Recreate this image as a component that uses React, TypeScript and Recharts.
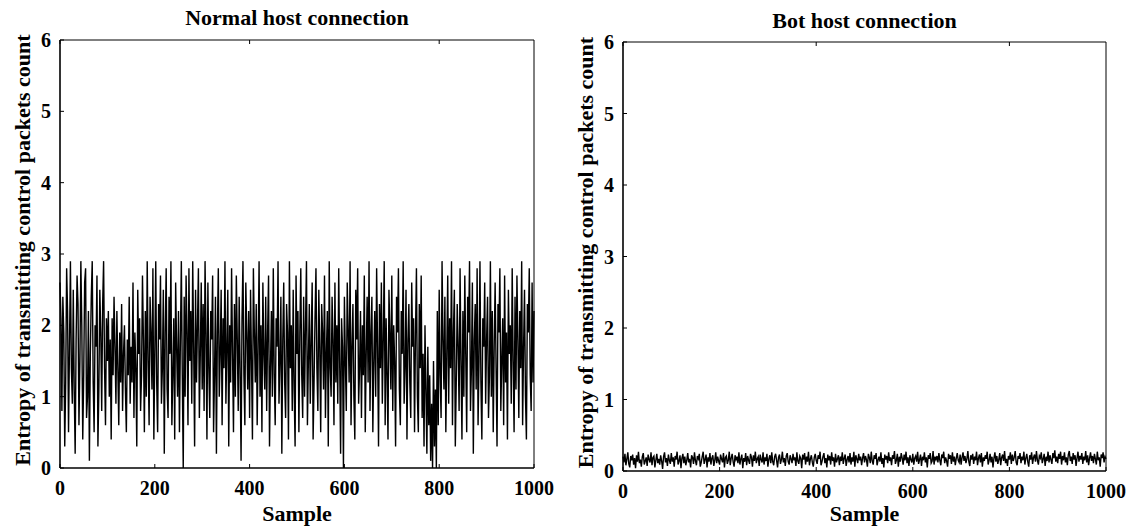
import React from 'react';
import { LineChart, Line, XAxis, YAxis } from 'recharts';

// values read every 2nd sample (0, 2, 4 ... 1000)
const sampleStep = 2;
const xTicks = [0, 200, 400, 600, 800, 1000];
const yTicks = [0, 1, 2, 3, 4, 5, 6];
const yLabel = 'Entropy of transmitting control packets count';
const xLabel = 'Sample';

const normalEntropy = [
  2.6, 2.1, 0.8, 2.4, 1.9, 0.3, 1.2, 2.8, 2.2, 0.5, 1.7, 2.9, 1.4, 0.9, 2.5, 1.1, 0.2, 1.8, 2.7, 2.3, 0.6, 1.5, 2.9, 2.0, 0.4,
  1.3, 2.6, 2.8, 0.7, 1.0, 2.2, 0.1, 1.6, 2.4, 2.9, 1.2, 0.5, 2.0, 1.7, 2.7, 0.3, 1.1, 2.5, 1.9, 0.8, 2.3, 2.9, 1.4, 0.6, 2.1,
  1.5, 2.2, 1.0, 1.8, 0.4, 2.1, 1.3, 2.4, 1.7, 0.9, 2.2, 1.4, 0.6, 1.9, 1.2, 2.3, 0.8, 1.6, 2.0, 1.1, 0.5, 1.8, 1.3, 2.4, 0.9,
  1.7, 1.2, 2.6, 0.7, 1.9, 1.4, 0.3, 2.5, 1.6, 2.1, 0.8, 1.3, 2.7, 1.8, 0.5, 2.2, 1.0, 2.9, 1.5, 0.6, 2.4, 1.9, 1.1, 2.8, 0.4,
  1.6, 2.9, 1.2, 0.5, 2.3, 1.8, 2.7, 0.9, 1.4, 2.5, 0.2, 1.9, 2.8, 1.1, 0.7, 2.4, 1.6, 2.9, 0.6, 1.3, 2.1, 0.4, 2.6, 1.7, 1.0,
  2.2, 0.5, 1.8, 2.9, 1.3, 0.0, 2.4, 1.0, 2.7, 1.9, 0.6, 2.8, 1.5, 2.2, 0.9, 2.9, 1.7, 0.3, 2.5, 1.2, 2.0, 2.8, 0.7, 1.6, 2.6,
  1.1, 2.3, 0.8, 2.9, 1.9, 0.4, 2.6, 1.4, 0.7, 2.2, 1.8, 2.7, 0.5, 1.3, 2.4, 0.2, 1.9, 2.8, 1.0, 1.6, 2.5, 0.6, 2.1, 1.4, 2.9,
  0.9, 1.7, 2.5, 0.3, 2.0, 1.2, 2.8, 1.6, 0.5, 2.3, 1.0, 2.7, 1.8, 0.8, 2.4, 1.4, 0.1, 2.1, 2.9, 1.3, 0.6, 2.6, 1.9, 1.1, 2.2,
  0.7, 2.5, 1.5, 0.4, 2.8, 1.9, 1.2, 2.3, 0.6, 1.7, 2.9, 1.0, 2.0, 0.5, 2.6, 1.6, 1.1, 2.4, 0.8, 1.9, 2.7, 0.3, 1.4, 2.2, 1.0,
  2.8, 1.3, 0.6, 2.1, 1.7, 2.9, 0.9, 1.5, 2.4, 0.2, 1.8, 2.6, 1.2, 0.7, 2.3, 1.9, 0.4, 2.9, 1.4, 2.0, 0.8, 2.5, 1.1, 0.3, 2.7,
  1.6, 2.2, 0.5, 1.9, 2.8, 1.3, 0.7, 2.4, 1.0, 2.0, 2.9, 0.6, 1.5, 2.3, 0.9, 1.8, 2.6, 0.4, 1.2, 2.1, 2.8, 1.4, 0.8, 2.5, 1.7,
  0.5, 2.3, 1.9, 1.1, 2.7, 0.7, 1.6, 2.2, 0.3, 2.9, 1.4, 1.0, 2.4, 1.8, 0.6, 2.6, 1.2, 2.0, 0.9, 2.8, 1.5, 0.2, 2.1, 1.7, 0.0,
  2.4, 1.5, 0.8, 2.6, 1.9, 1.2, 2.9, 0.6, 1.7, 2.3, 1.0, 0.4, 2.5, 1.8, 2.8, 0.9, 1.4, 2.2, 0.7, 2.0, 1.3, 2.7, 0.5, 1.6, 2.4,
  1.2, 2.9, 0.8, 1.9, 2.4, 0.5, 1.5, 2.2, 1.0, 2.8, 1.7, 0.3, 2.3, 1.4, 2.6, 0.9, 1.8, 2.9, 0.6, 2.1, 1.3, 0.4, 2.5, 1.9, 1.1,
  2.7, 0.8, 2.0, 1.5, 0.3, 2.4, 1.9, 2.8, 1.1, 0.6, 2.2, 1.6, 2.9, 0.9, 1.4, 2.5, 0.4, 1.8, 2.3, 1.2, 0.7, 2.6, 1.7, 2.1, 0.5,
  1.9, 2.8, 1.0, 0.5, 2.3, 1.4, 2.7, 0.7, 1.6, 0.3, 2.0, 1.1, 0.2, 1.7, 0.6, 1.3, 0.1, 0.9, 0.0, 1.5, 0.3, 1.1, 0.0, 2.2, 0.6,
  2.5, 1.3, 0.7, 2.9, 1.8, 1.1, 2.4, 0.5, 1.6, 2.7, 0.9, 2.1, 1.4, 2.9, 0.6, 1.9, 2.5, 0.3, 1.2, 2.3, 1.7, 0.8, 2.8, 1.5, 0.4,
  2.2, 1.0, 2.7, 1.6, 0.5, 2.4, 1.9, 2.9, 0.8, 1.4, 2.6, 0.2, 1.8, 2.3, 1.1, 2.8, 0.6, 1.5, 2.9, 1.2, 0.4, 2.1, 1.7, 2.6, 0.9,
  1.8, 2.4, 0.7, 1.3, 2.9, 1.0, 2.2, 0.5, 1.7, 2.6, 1.4, 0.3, 2.3, 1.9, 2.8, 0.8, 1.5, 2.1, 0.6, 2.7, 1.2, 1.9, 0.4, 2.5, 1.6,
  2.0, 0.9, 2.8, 1.5, 0.5, 2.4, 1.1, 2.7, 1.8, 0.7, 2.2, 1.4, 2.9, 0.6, 1.7, 2.5, 1.0, 0.4, 2.3, 1.9, 2.8, 1.3, 0.8, 2.6, 1.2,
  2.2,
];

const botEntropy = [
  0.2, 0.12, 0.24, 0.08, 0.17, 0.26, 0.1, 0.05, 0.21, 0.15, 0.23, 0.09, 0.18, 0.04, 0.22, 0.13, 0.27, 0.11, 0.16, 0.06, 0.2, 0.25, 0.09, 0.14, 0.19,
  0.07, 0.23, 0.16, 0.12, 0.26, 0.08, 0.19, 0.21, 0.05, 0.15, 0.24, 0.11, 0.17, 0.09, 0.22, 0.14, 0.03, 0.2, 0.26, 0.12, 0.18, 0.07, 0.23, 0.15, 0.1,
  0.25, 0.13, 0.19, 0.06, 0.21, 0.16, 0.27, 0.09, 0.14, 0.22, 0.04, 0.18, 0.24, 0.11, 0.2, 0.08, 0.15, 0.25, 0.12, 0.17, 0.05, 0.22, 0.19, 0.1, 0.26,
  0.14, 0.08, 0.21, 0.17, 0.24, 0.06, 0.12, 0.2, 0.27, 0.1, 0.16, 0.23, 0.05, 0.19, 0.13, 0.25, 0.09, 0.18, 0.22, 0.07, 0.15, 0.26, 0.11, 0.2, 0.14,
  0.09, 0.23, 0.17, 0.12, 0.25, 0.05, 0.19, 0.21, 0.1, 0.15, 0.27, 0.08, 0.18, 0.24, 0.13, 0.06, 0.22, 0.16, 0.2, 0.11, 0.26, 0.09, 0.17, 0.23, 0.04,
  0.18, 0.13, 0.25, 0.08, 0.21, 0.15, 0.1, 0.24, 0.19, 0.06, 0.22, 0.14, 0.27, 0.11, 0.17, 0.2, 0.07, 0.23, 0.16, 0.12, 0.26, 0.09, 0.19, 0.14, 0.24,
  0.06, 0.17, 0.22, 0.11, 0.26, 0.13, 0.08, 0.2, 0.24, 0.15, 0.05, 0.19, 0.23, 0.1, 0.16, 0.27, 0.12, 0.18, 0.07, 0.21, 0.25, 0.13, 0.09, 0.22, 0.17,
  0.11, 0.24, 0.15, 0.19, 0.07, 0.26, 0.14, 0.1, 0.21, 0.18, 0.04, 0.23, 0.16, 0.25, 0.09, 0.2, 0.13, 0.27, 0.08, 0.17, 0.22, 0.12, 0.06, 0.19, 0.24,
  0.15, 0.1, 0.22, 0.17, 0.27, 0.08, 0.13, 0.2, 0.25, 0.11, 0.18, 0.05, 0.23, 0.15, 0.21, 0.09, 0.26, 0.14, 0.19, 0.06, 0.24, 0.12, 0.17, 0.22, 0.08,
  0.2, 0.14, 0.26, 0.1, 0.18, 0.23, 0.07, 0.16, 0.21, 0.12, 0.25, 0.09, 0.19, 0.13, 0.27, 0.06, 0.22, 0.17, 0.11, 0.24, 0.15, 0.2, 0.08, 0.18, 0.25,
  0.12, 0.21, 0.16, 0.06, 0.24, 0.19, 0.11, 0.27, 0.14, 0.09, 0.22, 0.17, 0.25, 0.08, 0.15, 0.2, 0.13, 0.26, 0.1, 0.18, 0.05, 0.23, 0.16, 0.21, 0.11,
  0.26, 0.14, 0.19, 0.08, 0.22, 0.17, 0.28, 0.1, 0.15, 0.24, 0.06, 0.2, 0.13, 0.25, 0.18, 0.09, 0.23, 0.15, 0.27, 0.11, 0.19, 0.07, 0.22, 0.16, 0.12,
  0.24, 0.09, 0.18, 0.21, 0.13, 0.27, 0.1, 0.16, 0.23, 0.07, 0.2, 0.15, 0.26, 0.12, 0.19, 0.05, 0.22, 0.17, 0.25, 0.11, 0.14, 0.28, 0.09, 0.2, 0.16,
  0.21, 0.12, 0.25, 0.15, 0.08, 0.23, 0.18, 0.27, 0.11, 0.19, 0.14, 0.06, 0.24, 0.17, 0.22, 0.1, 0.26, 0.13, 0.2, 0.08, 0.18, 0.25, 0.15, 0.12, 0.23,
  0.09, 0.19, 0.26, 0.14, 0.21, 0.11, 0.17, 0.28, 0.13, 0.07, 0.22, 0.16, 0.24, 0.1, 0.2, 0.15, 0.27, 0.08, 0.18, 0.23, 0.12, 0.25, 0.06, 0.19, 0.14,
  0.22, 0.17, 0.27, 0.09, 0.15, 0.24, 0.12, 0.2, 0.05, 0.18, 0.26, 0.13, 0.21, 0.1, 0.16, 0.25, 0.08, 0.19, 0.23, 0.14, 0.28, 0.11, 0.17, 0.07, 0.21,
  0.16, 0.26, 0.1, 0.23, 0.14, 0.19, 0.28, 0.12, 0.08, 0.21, 0.17, 0.25, 0.11, 0.2, 0.15, 0.27, 0.09, 0.18, 0.24, 0.13, 0.06, 0.22, 0.16, 0.26, 0.1,
  0.19, 0.23, 0.13, 0.28, 0.15, 0.09, 0.21, 0.18, 0.26, 0.11, 0.17, 0.24, 0.07, 0.2, 0.14, 0.27, 0.12, 0.22, 0.16, 0.1, 0.25, 0.18, 0.29, 0.13, 0.2,
  0.11, 0.24, 0.17, 0.27, 0.09, 0.21, 0.15, 0.26, 0.12, 0.19, 0.08, 0.23, 0.28, 0.14, 0.2, 0.1, 0.25, 0.16, 0.22, 0.07, 0.18, 0.27, 0.13, 0.21, 0.16,
  0.25, 0.1, 0.2, 0.15, 0.28, 0.12, 0.22, 0.08, 0.18, 0.26, 0.14, 0.21, 0.11, 0.24, 0.17, 0.09, 0.27, 0.15, 0.19, 0.06, 0.23, 0.18, 0.26, 0.12, 0.2,
  0.17,
];

const font = 'Liberation Serif, Times New Roman, serif';
const tickText = { fill: '#000', fontSize: 20, fontWeight: 'bold', fontFamily: font };
const labelStyle = { fontFamily: font, fontWeight: 'bold', fontSize: 22, fill: '#000' };
const mainAxisLine = { stroke: '#000', strokeWidth: 1.6 };
const boxAxisLine = { stroke: '#000', strokeWidth: 1 };
const tickLen = 4;

const toRows = (values: number[]) => values.map((v, i) => ({ sample: i * sampleStep, value: v }));

// MATLAB-style ticks: short marks pointing into the plot box
const BottomTick = (p: any) => (
  <g>
    <line x1={p.x} x2={p.x} y1={p.y - 27} y2={p.y - 27 - tickLen} stroke='#000' />
    <text x={p.x} y={p.y} textAnchor='middle' style={tickText}>{p.payload.value}</text>
  </g>
);
const LeftTick = (p: any) => (
  <g>
    <line x1={p.x + 9} x2={p.x + 9 + tickLen} y1={p.y} y2={p.y} stroke='#000' />
    <text x={p.x} y={p.y} textAnchor='end' dominantBaseline='central' style={tickText}>{p.payload.value}</text>
  </g>
);
const TopTick = (p: any) => (
  <line x1={p.x} x2={p.x} y1={p.y} y2={p.y + tickLen} stroke='#000' />
);
const RightTick = (p: any) => (
  <line x1={p.x} x2={p.x - tickLen} y1={p.y} y2={p.y} stroke='#000' />
);

interface PanelProps {
  title: string;
  values: number[];
  left: number;
  width: number;
  margin: { top: number; right: number; bottom: number; left: number };
  titleGap: number;
  xLabelGap: number;
}

const Panel = ({ title, values, left, width, margin, titleGap, xLabelGap }: PanelProps) => (
  <div style={{ position: 'absolute', left, top: 0 }}>
    <LineChart width={width} height={529} data={toRows(values)} margin={margin}>
      <XAxis
        dataKey='sample'
        type='number'
        domain={[0, 1000]}
        ticks={xTicks}
        interval={0}
        height={1}
        tickSize={0}
        tickMargin={27}
        tick={<BottomTick />}
        axisLine={mainAxisLine}
        tickLine={false}
        label={(p: any) => (
          <text x={p.viewBox.x + p.viewBox.width / 2} y={p.viewBox.y + xLabelGap} textAnchor='middle' style={labelStyle}>
            {xLabel}
          </text>
        )}
      />
      <XAxis
        xAxisId='top'
        orientation='top'
        type='number'
        domain={[0, 1000]}
        ticks={xTicks}
        interval={0}
        height={1}
        tickSize={0}
        tickMargin={0}
        tick={<TopTick />}
        axisLine={boxAxisLine}
        tickLine={false}
        label={(p: any) => (
          <text x={p.viewBox.x + p.viewBox.width / 2} y={p.viewBox.y + 1 - titleGap} textAnchor='middle' style={labelStyle}>
            {title}
          </text>
        )}
      />
      <YAxis
        type='number'
        domain={[0, 6]}
        ticks={yTicks}
        interval={0}
        width={1}
        tickSize={0}
        tickMargin={9}
        tick={<LeftTick />}
        axisLine={mainAxisLine}
        tickLine={false}
        label={(p: any) => {
          const cx = p.viewBox.x + 1 - 38;
          const cy = p.viewBox.y + p.viewBox.height / 2 - 4;
          return (
            <text
              x={cx}
              y={cy}
              transform={`rotate(-90, ${cx}, ${cy})`}
              textAnchor='middle'
              dominantBaseline='central'
              style={labelStyle}
            >
              {yLabel}
            </text>
          );
        }}
      />
      <YAxis
        yAxisId='right'
        orientation='right'
        type='number'
        domain={[0, 6]}
        ticks={yTicks}
        interval={0}
        width={1}
        tickSize={0}
        tickMargin={0}
        tick={<RightTick />}
        axisLine={boxAxisLine}
        tickLine={false}
      />
      <Line type='linear' dataKey='value' stroke='#000' strokeWidth={1.4} dot={false} isAnimationActive={false} />
    </LineChart>
  </div>
);

export default function App() {
  return (
    <div style={{ position: 'absolute', left: 0, top: 0, width: 1138, height: 529, background: '#fff' }}>
      <Panel
        title='Normal host connection'
        values={normalEntropy}
        left={0}
        width={560}
        margin={{ top: 39, right: 25, bottom: 60, left: 59 }}
        titleGap={15}
        xLabelGap={53}
      />
      <Panel
        title='Bot host connection'
        values={botEntropy}
        left={563}
        width={575}
        margin={{ top: 41, right: 31, bottom: 57, left: 59 }}
        titleGap={14}
        xLabelGap={50}
      />
    </div>
  );
}
